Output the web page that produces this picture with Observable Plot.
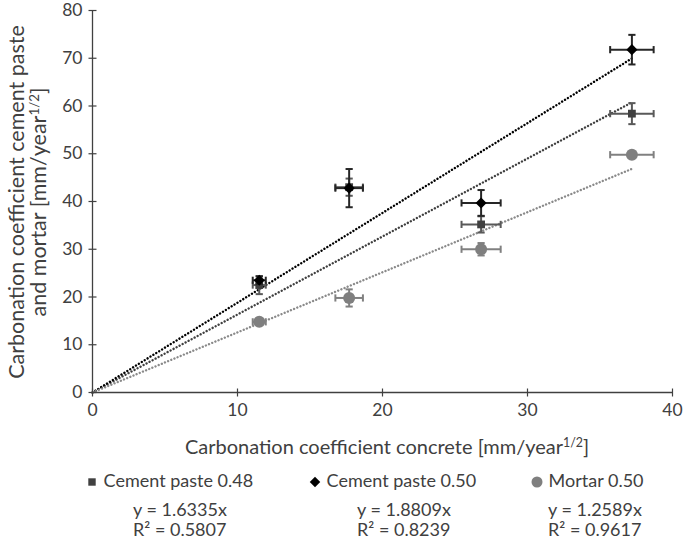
<!DOCTYPE html>
<html><head><meta charset="utf-8">
<script src="https://cdn.jsdelivr.net/npm/d3@7"></script>
<script src="https://cdn.jsdelivr.net/npm/@observablehq/plot@0.6"></script>
<style>
body{margin:0;background:#fff;}
#wrap{position:relative;width:685px;height:539px;font-family:Lato,"Open Sans",sans-serif;color:#404040;overflow:hidden;background:#fff}
#chart{position:absolute;left:0;top:0}
#ytitle{position:absolute;left:27px;top:202px;width:440px;transform:translate(-50%,-50%) rotate(-90deg);text-align:center;font-size:21.5px;line-height:22px;white-space:nowrap}
#xtitle{position:absolute;left:387px;top:446px;transform:translate(-50%,-50%);font-size:20px;white-space:nowrap}
sup{font-size:0.62em;vertical-align:0.55em;line-height:0}
.lg{position:absolute;font-size:18px;line-height:18px;white-space:nowrap}
.lg svg{vertical-align:middle}
</style></head><body>
<div id="wrap">
<div id="chart"></div>
<div id="ytitle">Carbonation coefficient cement paste<br>and mortar [mm/year<sup>1/2</sup>]</div>
<div id="xtitle">Carbonation coefficient concrete [mm/year<sup>1/2</sup>]</div>
<div id="legend"></div>
</div>
<script>
// ---- data ----
const seriesNames = ["Cement paste 0.48", "Cement paste 0.50", "Mortar 0.50"];
const concreteX = [11.5, 17.7, 26.8, 37.2];
const concreteXErr = [0.45, 0.95, 1.35, 1.5];
const paste048Y = [22.5, 43.0, 35.2, 58.4];
const paste048YErr = [1.9, 1.8, 1.7, 2.2];
const paste050Y = [23.5, 42.8, 39.7, 71.8];
const paste050YErr = [0.8, 4.0, 2.7, 3.1];
const mortarY = [14.8, 19.8, 30.0, 49.8];
const mortarYErr = [0.5, 1.8, 1.3, 0.5];
const slopes = [1.6335, 1.8809, 1.2589];
const rSquared = [0.5807, 0.8239, 0.9617];
const xTicks = [0, 10, 20, 30, 40];
const yTicks = [0, 10, 20, 30, 40, 50, 60, 70, 80];

// ---- styling ----
const seriesY = [paste048Y, paste050Y, mortarY];
const seriesYErr = [paste048YErr, paste050YErr, mortarYErr];
const markerColor = ["#404040", "#000000", "#7f7f7f"];
const errColor = ["#595959", "#262626", "#808080"];
const trendColor = ["#404040", "#000000", "#8a8a8a"];
const symbols = ["square", "diamond2", "circle"];
const symbolR = [4.4, 5, 6];

const vbar = {draw(ctx, size){ const h = Math.sqrt(size/Math.PI); ctx.moveTo(0,-h); ctx.lineTo(0,h); }};
const hbar = {draw(ctx, size){ const h = Math.sqrt(size/Math.PI); ctx.moveTo(-h,0); ctx.lineTo(h,0); }};

const marks = [];
const xmax = d3.max(concreteX);
// trendlines (dotted)
seriesNames.forEach((s, i) => {
  marks.push(Plot.line([{x: 0, y: 0}, {x: xmax, y: slopes[i] * xmax}], {
    x: "x", y: "y", stroke: trendColor[i], strokeWidth: 2.4, strokeDasharray: "0.01 3.4", strokeLinecap: "round"
  }));
});
// axis lines + crossing ticks
marks.push(Plot.ruleX([0], {stroke: "#404040", strokeWidth: 1.3}));
marks.push(Plot.ruleY([0], {stroke: "#404040", strokeWidth: 1.3}));
marks.push(Plot.dot(yTicks, {x: () => 0, y: d => d, symbol: hbar, r: 4, stroke: "#404040", strokeWidth: 1.2, fill: "none"}));
marks.push(Plot.dot(xTicks, {x: d => d, y: () => 0, symbol: vbar, r: 4, stroke: "#404040", strokeWidth: 1.2, fill: "none"}));
marks.push(Plot.axisY({ticks: yTicks, tickSize: 0, tickPadding: 10, label: null, fontSize: 17.5}));
marks.push(Plot.axisX({ticks: xTicks, tickSize: 0, tickPadding: 11, label: null, fontSize: 17.5}));

// series: error bars, caps, markers
seriesNames.forEach((s, i) => {
  const rows = concreteX.map((x, j) => ({x, xe: concreteXErr[j], y: seriesY[i][j], ye: seriesYErr[i][j]}));
  const ec = errColor[i];
  marks.push(Plot.link(rows, {x1: d => d.x - d.xe, x2: d => d.x + d.xe, y1: "y", y2: "y", stroke: ec, strokeWidth: 2}));
  marks.push(Plot.link(rows, {x1: "x", x2: "x", y1: d => d.y - d.ye, y2: d => d.y + d.ye, stroke: ec, strokeWidth: 2}));
  marks.push(Plot.dot(rows, {x: d => d.x - d.xe, y: "y", symbol: vbar, r: 3.6, stroke: ec, strokeWidth: 2, fill: "none"}));
  marks.push(Plot.dot(rows, {x: d => d.x + d.xe, y: "y", symbol: vbar, r: 3.6, stroke: ec, strokeWidth: 2, fill: "none"}));
  marks.push(Plot.dot(rows, {x: "x", y: d => d.y - d.ye, symbol: hbar, r: 3.6, stroke: ec, strokeWidth: 2, fill: "none"}));
  marks.push(Plot.dot(rows, {x: "x", y: d => d.y + d.ye, symbol: hbar, r: 3.6, stroke: ec, strokeWidth: 2, fill: "none"}));
  marks.push(Plot.dot(rows, {x: "x", y: "y", symbol: symbols[i], r: symbolR[i], fill: markerColor[i], stroke: "none"}));
});

const chart = Plot.plot({
  width: 685,
  height: 460,
  marginTop: 10,
  marginLeft: 92,
  marginRight: 13,
  marginBottom: 68,
  x: {domain: [0, 40]},
  y: {domain: [0, 80]},
  style: {fontFamily: "Lato, 'Open Sans', sans-serif", fontSize: "18px", color: "#404040", background: "white", overflow: "visible"},
  marks
});
document.getElementById("chart").appendChild(chart);

// ---- legend ----
const legendCols = [92, 315, 537];
const eqCols = [133, 357, 548];
const lg = document.getElementById("legend");
const symTypes = [d3.symbolSquare, d3.symbolDiamond2, d3.symbolCircle];
const symSizes = [55, 70, 95];
seriesNames.forEach((s, i) => {
  const item = document.createElement("div");
  item.className = "lg";
  item.style.left = (legendCols[i] - 7) + "px";
  item.style.top = (480 - 9) + "px";
  const path = d3.symbol(symTypes[i], symSizes[i])();
  item.innerHTML = `<svg width="14" height="14" viewBox="-7 -7 14 14"><path d="${path}" fill="${markerColor[i]}"/></svg><span> ${s}</span>`;
  lg.appendChild(item);
  const eq = document.createElement("div");
  eq.className = "lg";
  eq.style.left = eqCols[i] + "px";
  eq.style.top = (509 - 9) + "px";
  eq.textContent = `y = ${slopes[i].toFixed(4)}x`;
  lg.appendChild(eq);
  const r2 = document.createElement("div");
  r2.className = "lg";
  r2.style.left = eqCols[i] + "px";
  r2.style.top = (529 - 9) + "px";
  r2.textContent = `R² = ${rSquared[i].toFixed(4)}`;
  lg.appendChild(r2);
});
</script>
</body></html>
